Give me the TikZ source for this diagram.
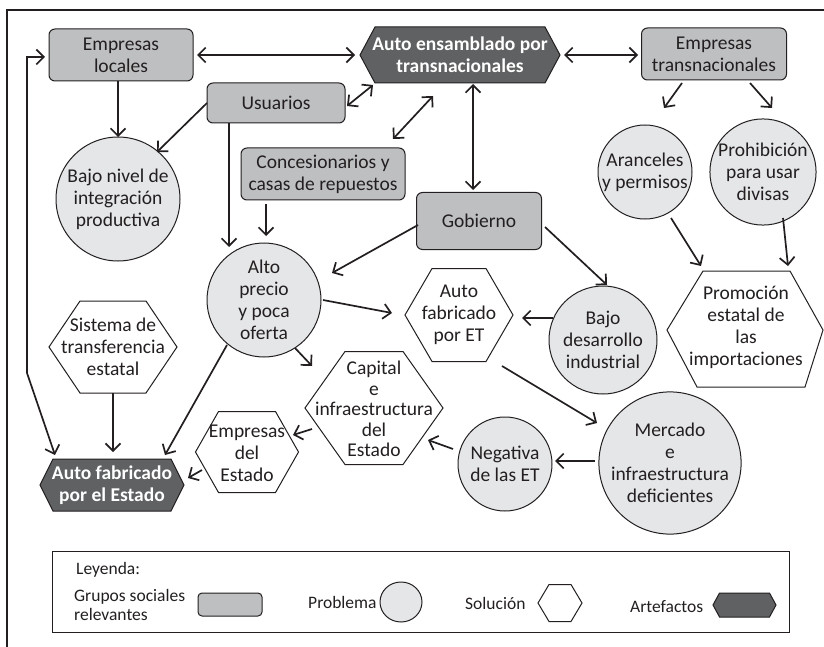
\documentclass[tikz,border=0pt]{standalone}
\usepackage{fontspec}
\setmainfont{Carlito}
\usetikzlibrary{arrows.meta,calc,shapes.geometric}
\definecolor{grpfill}{RGB}{190,191,193}
\definecolor{probfill}{RGB}{229,230,232}
\definecolor{artfill}{RGB}{96,97,99}
\definecolor{linec}{RGB}{35,31,32}
\newcommand{\mainfs}{\fontsize{19.5}{22}\selectfont}
\newcommand{\legfs}{\fontsize{17.5}{19.5}\selectfont}
\newcommand{\hexshape}[6]{%
  \draw[#1] ({#2-#4},#3) -- ({#2-#4+#6},{#3-#5}) -- ({#2+#4-#6},{#3-#5}) -- ({#2+#4},#3) -- ({#2+#4-#6},{#3+#5}) -- ({#2-#4+#6},{#3+#5}) -- cycle;}
\tikzset{
  grp/.style={draw=linec, fill=grpfill, rounded corners=6pt, line width=1pt, inner sep=0pt, align=center, font=\mainfs, text=linec},
  prob/.style={circle, draw=linec, fill=probfill, line width=1pt, inner sep=0pt, align=center, font=\mainfs, text=linec},
  txt/.style={inner sep=0pt, align=center, font=\mainfs, text=linec},
  arttxt/.style={inner sep=0pt, align=center, font=\mainfs\bfseries, text=white},
  solhex/.style={draw=linec, fill=white, line width=1pt, line join=miter},
  arthex/.style={draw=linec, fill=artfill, line width=1pt},
  arr/.style={-{Straight Barb[length=7.5pt,width=15pt]}, line width=1.7pt, draw=linec},
  darr/.style={{Straight Barb[length=7.5pt,width=15pt]}-{Straight Barb[length=7.5pt,width=15pt]}, line width=1.7pt, draw=linec},
  legtxt/.style={inner sep=0pt, align=left, font=\legfs, text=linec, anchor=west}
}
\begin{document}
\begin{tikzpicture}[x=1pt,y=-1pt]
\useasboundingbox (0,0) rectangle (824,647);
% outer frame
\draw[linec, line width=1.2pt] (7,647) -- (7,10) -- (824,10);

% social groups
\node[grp, minimum width=144pt, minimum height=52pt] (el) at (121,55) {Empresas\\locales};
\node[grp, minimum width=145pt, minimum height=52pt] (et) at (714,54) {Empresas\\transnacionales};
\node[grp, minimum width=138pt, minimum height=40pt] (us) at (276,103) {Usuarios};
\node[grp, minimum width=164pt, minimum height=52pt] (con) at (323,174) {Concesionarios y\\casas de repuestos};
\node[grp, minimum width=125pt, minimum height=57pt] (gob) at (479,221) {Gobierno};

% problems
\node[prob, minimum size=124pt] (bni) at (118,199) {Bajo nivel de\\integración\\productiva};
\node[prob, minimum size=94pt] (ara) at (645,172) {Aranceles\\y permisos};
\node[prob, minimum size=100pt] (pro) at (763,172) {Prohibición\\para usar\\divisas};
\node[prob, minimum size=114pt] (alto) at (264,300) {Alto\\precio\\y poca\\oferta};
\node[prob, minimum size=108pt] (bdi) at (603,340) {Bajo\\desarrollo\\industrial};
\node[prob, minimum size=94pt] (neg) at (505,464) {Negativa\\de las ET};
\node[prob, minimum size=132pt] (mer) at (670,463) {Mercado\\e\\infraestructura\\deficientes};

% artefacts
\hexshape{arthex}{460}{55}{100}{28}{15}
\node[arttxt] (aet) at (460,55) {Auto ensamblado por\\transnacionales};
\hexshape{arthex}{112}{485}{72}{26}{13}
\node[arttxt] (afe) at (112,485) {Auto fabricado\\por el Estado};

% solutions
\hexshape{solhex}{113}{347}{64}{46}{31}
\node[txt] (sis) at (113,347) {Sistema de\\transferencia\\estatal};
\hexshape{solhex}{459}{315}{54}{46.5}{27}
\node[txt] (aft) at (459,315) {Auto\\fabricado\\por ET};
\hexshape{solhex}{374}{408}{69}{56.5}{40}
\node[txt, font=\fontsize{19.5}{20.5}\selectfont] (cap) at (374,409) {Capital\\e\\infraestructura\\del\\Estado};
\hexshape{solhex}{247}{452}{51.5}{40.5}{23}
\node[txt] (eds) at (247,453) {Empresas\\del\\Estado};
\draw[solhex] (667,330) -- (703,271) -- (790,271) -- (823,330) -- (805,387) -- (697,387) -- cycle;
\node[txt] (prm) at (746,327) {Promoción\\estatal de\\las\\importaciones};

% connectors
\draw[darr] ([shift={(76,0)}]el.center) -- ([shift={(-105,0)}]aet.center);
\draw[darr] ([shift={(104,0)}]aet.center) -- ([shift={(-76,1)}]et.center);
\draw[darr, line join=miter] ([shift={(-57,-30)}]afe.center) -- ([shift={(-85,-112)}]afe.center) |- ([shift={(-76,2)}]el.center);
\draw[arr] ([shift={(-3,26)}]el.center) -- ([shift={(0,-62)}]bni.center);
\draw[arr] ([shift={(-69,0)}]us.center) -- ([shift={(39,-47)}]bni.center);
\draw[darr] ([shift={(71,3)}]us.center) -- ([shift={(-87,30)}]aet.center);
\draw[arr] ([shift={(-47,20)}]us.center) -- ([shift={(-35,-53)}]alto.center);
\draw[arr] ([shift={(-57,30)}]con.center) -- ([shift={(2,-64)}]alto.center);
\draw[darr] ([shift={(70,-35)}]con.center) -- ([shift={(-27,41)}]aet.center);
\draw[darr] ([shift={(13,29)}]aet.center) -- ([shift={(-6,-31)}]gob.center);
\draw[arr] ([shift={(-32,29)}]et.center) -- ([shift={(19,-64)}]ara.center);
\draw[arr] ([shift={(36,29)}]et.center) -- ([shift={(9,-64)}]pro.center);
\draw[arr] ([shift={(26,46)}]ara.center) -- ([shift={(-45,-61)}]prm.center);
\draw[arr] ([shift={(20,46)}]pro.center) -- ([shift={(42,-61)}]prm.center);
\draw[arr] ([shift={(-61,4)}]gob.center) -- ([shift={(68,-27)}]alto.center);
\draw[arr] ([shift={(66,6)}]gob.center) -- ([shift={(4,-55)}]bdi.center);
\draw[arr] ([shift={(-50,-22)}]bdi.center) -- ([shift={(63,3)}]aft.center);
\draw[arr] ([shift={(59,0)}]alto.center) -- ([shift={(-67,-2)}]aft.center);
\draw[arr] ([shift={(31,48)}]alto.center) -- ([shift={(-62,-43)}]cap.center);
\draw[arr] ([shift={(-37,45)}]alto.center) -- ([shift={(53,-30)}]afe.center);
\draw[arr] ([shift={(0,46)}]sis.center) -- ([shift={(1,-33)}]afe.center);
\draw[arr] ([shift={(-62,20)}]cap.center) -- ([shift={(46,-18)}]eds.center);
\draw[arr] ([shift={(-45,17)}]eds.center) -- ([shift={(76,-7)}]afe.center);
\draw[arr] ([shift={(-52,-15)}]neg.center) -- ([shift={(54,31)}]cap.center);
\draw[arr] ([shift={(-75,-2)}]mer.center) -- ([shift={(50,-3)}]neg.center);
\draw[arr] ([shift={(43,51)}]aft.center) -- ([shift={(-73,-40)}]mer.center);

% legend
\draw[linec, line width=1pt] (52,551) rectangle (789,632);
\node[legtxt] (leyenda) at (76,570) {Leyenda:};
\node[legtxt] (lgrp) at (74,605) {Grupos sociales\\relevantes};
\node[draw=linec, fill=grpfill, rounded corners=4pt, line width=1pt, minimum width=64pt, minimum height=23pt, inner sep=0pt] (lrect) at (230,604.5) {};
\node[legtxt] (lprob) at (308,602) {Problema};
\node[draw=linec, fill=probfill, line width=1pt, ellipse, minimum width=42pt, minimum height=40pt, inner sep=0pt] (lcirc) at (401,602) {};
\node[legtxt] (lsol) at (465,603) {Solución};
\hexshape{solhex}{560}{603}{22}{18.5}{11}
\node[legtxt] (lart) at (630,607) {Artefactos};
\hexshape{arthex}{744.5}{605}{31.5}{12}{6.5}
\end{tikzpicture}
\end{document}
